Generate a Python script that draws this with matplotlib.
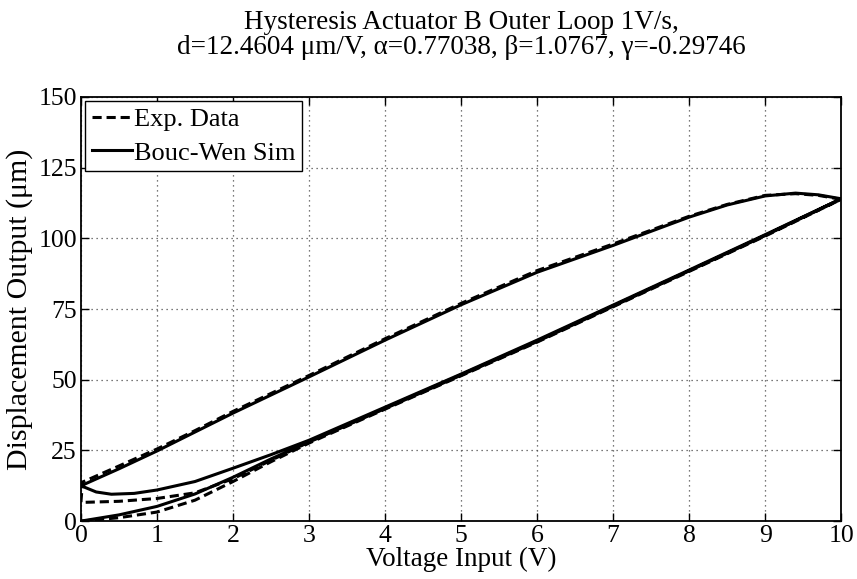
import numpy as np
import matplotlib.pyplot as plt

plt.rcParams['font.family'] = ['Liberation Serif', 'DejaVu Serif']
plt.rcParams['mathtext.fontset'] = 'stix'

# Bouc-Wen simulation (solid): first loading, unloading, second loading
sim_up1_v = [0, 0.5, 1, 1.5, 2, 2.5, 3, 4, 5, 6, 7, 8, 9, 10]
sim_up1_d = [0, 2.2, 5.2, 9.6, 15.5, 22, 28, 39.8, 51.6, 63.5, 76, 88.5, 101, 114]
sim_down_v = [10, 9.7, 9.4, 9, 8.5, 8, 7, 6, 5, 4, 3, 2, 1.5, 1, 0.5, 0]
sim_down_d = [114, 115.4, 116, 115, 111.8, 107.5, 97.5, 88, 76.5, 64, 51, 38.2, 31.5, 24.8, 18.5, 12.5]
sim_up2_v = [0, 0.2, 0.4, 0.7, 1, 1.5, 2, 2.5, 3, 4, 5, 6, 7, 8, 9, 10]
sim_up2_d = [12.5, 10.3, 9.5, 9.8, 11, 14, 18.7, 23.5, 28.6, 40.3, 52, 64, 76.4, 88.8, 101.3, 114]

# experimental data (dashed)
exp_up1_v = [0, 0.5, 1, 1.5, 2, 2.5, 3, 4, 5, 6, 7, 8, 9, 10]
exp_up1_d = [0, 1.2, 3.2, 7.4, 14, 21, 27.6, 39.6, 51.4, 63.3, 75.8, 88.3, 100.8, 113.8]
exp_down_v = [10, 9.7, 9.4, 9, 8.5, 8, 7, 6, 5, 4, 3, 2, 1.5, 1, 0.5, 0.02, 0.0]
exp_down_d = [113.8, 115.2, 115.8, 115.2, 112, 107.8, 98, 88.6, 77, 64.5, 51.5, 38.8, 32, 25.5, 19.5, 13.8, 7]
exp_up2_v = [0.0, 0.5, 1, 1.5, 2, 2.5, 3, 4, 5, 6, 7, 8, 9, 10]
exp_up2_d = [6.6, 7, 8, 10, 15, 21.5, 28, 40, 51.8, 63.7, 76.2, 88.6, 101.1, 113.8]

exp_v = np.concatenate([exp_up1_v, exp_down_v, exp_up2_v])
exp_d = np.concatenate([exp_up1_d, exp_down_d, exp_up2_d])
sim_v = np.concatenate([sim_up1_v, sim_down_v, sim_up2_v])
sim_d = np.concatenate([sim_up1_d, sim_down_d, sim_up2_d])

fig = plt.figure(figsize=(8.57, 5.79), dpi=100)
ax = fig.add_axes([0.0945, 0.1, 0.887, 0.7325])

ax.plot(exp_v, exp_d, 'k', linestyle=(0, (3, 1.6)), lw=2.2, label='Exp. Data')
ax.plot(sim_v, sim_d, 'k-', lw=2.2, label='Bouc-Wen Sim')

ax.set_xlim(0, 10)
ax.set_ylim(0, 150)
ax.set_xticks(np.arange(0, 11, 1))
ax.set_yticks(np.arange(0, 151, 25))
ax.grid(True, color='0.3', linestyle=(0, (1, 3)), lw=0.9)
ax.tick_params(direction='in', top=True, right=True, length=6, width=1.0,
               labelsize=18.5)
ax.tick_params(axis='x', pad=3)
ax.tick_params(axis='y', pad=3)
for s in ax.spines.values():
    s.set_linewidth(1.3)

ax.set_xlabel('Voltage Input (V)', fontsize=19.5, labelpad=0)
ax.set_ylabel('Displacement Output (μm)', fontsize=21.5, labelpad=4)
ax.set_title('Hysteresis Actuator B Outer Loop 1V/s,\n'
             'd=12.4604 μm/V, α=0.77038, β=1.0767, γ=-0.29746',
             fontsize=19.5, linespacing=1.0, pad=31)

leg = ax.legend(loc='upper left', fontsize=19, handlelength=1.55, handletextpad=0.05,
                borderaxespad=0.15, borderpad=0.25, labelspacing=0.38, fancybox=False,
                framealpha=1)
leg.get_frame().set_edgecolor('black')
leg.get_frame().set_linewidth(1.0)

fig.savefig('out.png', dpi=100)
